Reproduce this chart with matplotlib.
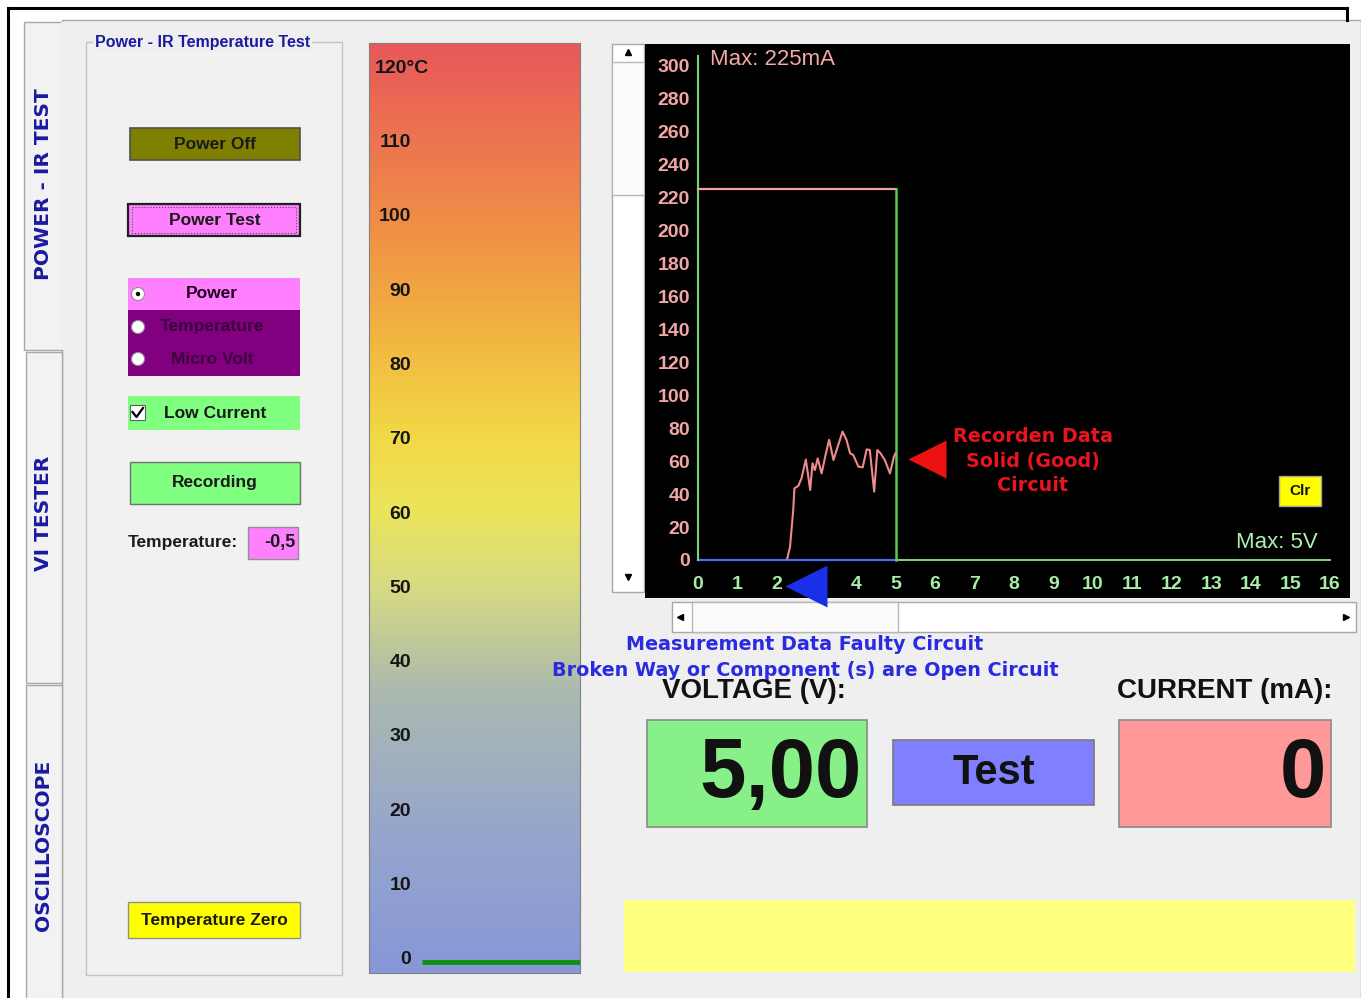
import numpy as np
import matplotlib
matplotlib.use('Agg')
import matplotlib.pyplot as plt
from matplotlib.patches import Rectangle, Circle
from matplotlib.colors import LinearSegmentedColormap

plt.rcParams['font.family'] = ['Liberation Sans', 'DejaVu Sans']

# ---- data ----
temp_ticks = [120, 110, 100, 90, 80, 70, 60, 50, 40, 30, 20, 10, 0]
temp_value = -0.5
current_ticks = [0, 20, 40, 60, 80, 100, 120, 140, 160, 180, 200, 220, 240, 260, 280, 300]
voltage_ticks = [0, 1, 2, 3, 4, 5, 6, 7, 8, 9, 10, 11, 12, 13, 14, 15, 16]
max_current = 225          # mA
max_voltage = 5            # V
voltage_reading = 5.00
current_reading = 0

# recorded trace (V, mA)
trace_v = [2.26, 2.33, 2.41, 2.44, 2.54, 2.62, 2.73, 2.84, 2.90, 2.96, 3.03, 3.13,
           3.22, 3.32, 3.43, 3.51, 3.66, 3.76, 3.85, 3.93, 4.06, 4.17, 4.27, 4.35,
           4.46, 4.54, 4.62, 4.73, 4.86, 4.96, 5.00]
trace_ma = [1, 8, 30, 43.5, 45, 49.6, 61, 42.5, 58.7, 54.6, 61.7, 52.6,
            62.8, 73, 60.7, 66.8, 78, 72.9, 64.8, 63.8, 56.7, 56.3, 67.2, 66.8,
            41.5, 66.8, 64.8, 60.7, 52.6, 62.7, 64.8]

W, H = 1361, 998
fig = plt.figure(figsize=(W / 100, H / 100), dpi=100)
fig.patch.set_facecolor('white')

# ---- background "window" drawn in pixel coordinates ----
bg = fig.add_axes([0, 0, 1, 1])
bg.set_xlim(0, W)
bg.set_ylim(H, 0)
bg.axis('off')


def box(axh, x0, y0, x1, y1, fc, ec='none', lw=1.0, ls='-', z=1):
    axh.add_patch(Rectangle((x0, y0), x1 - x0, y1 - y0, facecolor=fc,
                            edgecolor=ec, linewidth=lw, linestyle=ls, zorder=z))


bg.plot([8, 8], [8, H], color='black', lw=2.2)
bg.plot([8, 1347], [8, 8], color='black', lw=2.2)
bg.plot([1347, 1347], [8, 20], color='black', lw=2.2)

# tab control
box(bg, 62, 20, 1361, 1000, '#efefef', '#a8a8a8')
box(bg, 24, 22, 62, 350, '#f2f2f2', '#a8a8a8')
box(bg, 26, 352, 62, 683, '#f2f2f2', '#a8a8a8')
box(bg, 26, 685, 62, 1000, '#f2f2f2', '#a8a8a8')
bg.plot([62, 62], [23, 348], color='#f2f2f2', lw=2, zorder=2)
tab_style = dict(color='#1a1aa0', fontsize=14.5, fontweight='bold', rotation=90,
                 ha='center', va='center', family='DejaVu Sans')
bg.text(44, 184, 'POWER - IR TEST', **tab_style)
bg.text(44, 513, 'VI TESTER', **tab_style)
bg.text(44, 845, 'OSCILLOSCOPE', **tab_style)

# group box
box(bg, 86, 42, 342, 975, '#f1f1f1', '#c4c4c4')
bg.text(95, 42, 'Power - IR Temperature Test', color='#1a1aa0', fontsize=11.5,
        fontweight='bold', ha='left', va='center', zorder=3,
        bbox=dict(facecolor='#efefef', edgecolor='none', pad=1.5))

btn = dict(fontsize=12.5, fontweight='bold', ha='center', va='center', color='#1a1a1a', zorder=4)
box(bg, 130, 128, 300, 160, '#808000', '#505050', 1.2)
bg.text(215, 144, 'Power Off', **btn)
box(bg, 128, 204, 300, 236, '#ff80ff', '#202020', 1.6)
box(bg, 132, 207, 296, 233, 'none', '#505050', 0.8, ':', 3)
bg.text(215, 220, 'Power Test', **btn)

box(bg, 128, 278, 300, 310, '#ff80ff')
box(bg, 128, 310, 300, 376, '#800080')
for yy, label, col in [(294, 'Power', '#200020'), (327, 'Temperature', '#3c003c'),
                       (359, 'Micro Volt', '#3c003c')]:
    bg.add_patch(Circle((138, yy), 6.5, facecolor='white', edgecolor='#909090', lw=0.8, zorder=3))
    bg.text(212, yy, label, fontsize=12.5, fontweight='bold', ha='center', va='center',
            color=col, zorder=4)
bg.add_patch(Circle((138, 294), 2.2, facecolor='black', zorder=4))

box(bg, 128, 396, 300, 430, '#80ff80')
box(bg, 130, 405, 145, 420, 'white', '#606060', 0.8, z=3)
bg.plot([132.5, 136.5, 143], [412, 417, 408], color='black', lw=1.6, zorder=4)
bg.text(215, 413, 'Low Current', **btn)

box(bg, 130, 462, 300, 504, '#80ff80', '#707070', 1.0)
bg.text(215, 483, 'Recording', **btn)

bg.text(128, 542, 'Temperature:', fontsize=12.5, fontweight='bold', ha='left',
        va='center', color='#1a1a1a')
box(bg, 248, 527, 298, 559, '#ff80ff', '#909090', 1.0)
bg.text(296, 542, f'{temp_value:.1f}'.replace('.', ','), fontsize=13, fontweight='bold',
        ha='right', va='center', color='#1a1a1a', zorder=4)

box(bg, 128, 902, 300, 938, '#ffff00', '#909090', 1.0)
bg.text(214, 920, 'Temperature Zero', **btn)

# scrollbars
box(bg, 612, 44, 644, 592, 'white', '#a8a8a8', 1.0)
box(bg, 612, 62, 644, 195, '#fbfbfb', '#b8b8b8', 1.0, z=2)
bg.plot(628, 52, marker='^', ms=5, color='black', zorder=3)
bg.plot(628, 577, marker='v', ms=5, color='black', zorder=3)
box(bg, 672, 602, 1356, 632, 'white', '#a8a8a8', 1.0)
box(bg, 692, 602, 898, 632, '#fbfbfb', '#b8b8b8', 1.0, z=2)
bg.plot(680, 617, marker='<', ms=5, color='black', zorder=3)
bg.plot(1346, 617, marker='>', ms=5, color='black', zorder=3)

# readouts
bg.text(662, 691, 'VOLTAGE (V):', fontsize=20, fontweight='bold', ha='left', va='center', color='#111111')
bg.text(1332, 691, 'CURRENT (mA):', fontsize=20, fontweight='bold', ha='right', va='center', color='#111111')
box(bg, 647, 720, 867, 827, '#88f088', '#8a8a8a', 1.2)
bg.text(862, 775, f'{voltage_reading:.2f}'.replace('.', ','), fontsize=60, fontweight='bold',
        ha='right', va='center', color='#111111')
box(bg, 893, 740, 1094, 805, '#8080ff', '#7a7a7a', 1.2)
bg.text(994, 773, 'Test', fontsize=30, fontweight='bold', ha='center', va='center', color='#111111')
box(bg, 1119, 720, 1331, 827, '#ff9999', '#8a8a8a', 1.2)
bg.text(1326, 775, str(current_reading), fontsize=60, fontweight='bold',
        ha='right', va='center', color='#111111')
box(bg, 624, 900, 1355, 972, '#ffff80')

# ---- temperature bar ----
tax = fig.add_axes([369 / W, 1 - 973 / H, 211 / W, 930 / H])
t_lo = 0 - (973 - 958) / 7.433
t_hi = 120 + (66 - 43) / 7.433
cmap = LinearSegmentedColormap.from_list('ir', [
    (0.00, '#8797d8'), (0.15, '#96a6cc'), (0.30, '#abb9b0'), (0.42, '#d8dc80'),
    (0.50, '#ece45a'), (0.58, '#f2d846'), (0.70, '#f2b040'), (0.82, '#ef8a48'),
    (1.00, '#e8585a')])
grad = np.linspace(0, 1, 256).reshape(-1, 1)
tax.imshow(grad, aspect='auto', cmap=cmap, origin='lower', extent=[0, 211, t_lo, t_hi])
tax.set_xlim(0, 211)
tax.set_ylim(t_lo, t_hi)
tax.set_xticks([])
tax.set_yticks([])
for s in tax.spines.values():
    s.set_color('#808080')
for t in temp_ticks:
    if t == temp_ticks[0]:
        tax.text(6, t, f'{t}°C', ha='left', va='center_baseline', fontsize=14,
                 fontweight='bold', color='#151515')
    else:
        tax.text(42, t, str(t), ha='right', va='center_baseline', fontsize=14,
                 fontweight='bold', color='#151515')
tax.hlines(temp_value, 53, 211, color='#109010', lw=3.5)

# ---- V/I chart ----
ax = fig.add_axes([645 / W, 1 - 598 / H, 705 / W, 554 / H])
ax.set_facecolor('black')
ax.set_xlim((645 - 698) / 39.5, (1350 - 698) / 39.5)
ax.set_ylim(-(598 - 560) / 1.6467, (560 - 44) / 1.6467)
ax.set_xticks([])
ax.set_yticks([])
for s in ax.spines.values():
    s.set_visible(False)

for v in current_ticks:
    ax.text(-0.2, v, str(v), ha='right', va='center_baseline', fontsize=14,
            fontweight='bold', color='#f2a6a6')
for v in voltage_ticks:
    ax.text(v, -13.4, str(v), ha='center', va='center_baseline', fontsize=14,
            fontweight='bold', color='#a8eea8')

ax.plot([0, voltage_ticks[-1]], [0, 0], color='#90e090', lw=1.3)
ax.plot([0, max_voltage], [0, 0], color='#4a6cff', lw=1.6)
ax.plot([0, 0], [0, 306], color='#70d870', lw=1.5)
ax.plot([0, max_voltage], [max_current, max_current], color='#f4a0a0', lw=1.6)
ax.plot([max_voltage, max_voltage], [0, max_current], color='#50d050', lw=1.8)
ax.plot(trace_v, trace_ma, color='#f08a8a', lw=1.5)

ax.text(0.3, 305.5, f'Max: {max_current}mA', ha='left', va='center_baseline', fontsize=16, color='#f4a8a8')
ax.text(15.7, 12.1, f'Max: {max_voltage}V', ha='right', va='center_baseline', fontsize=16, color='#b0f0b0')
ax.text(8.48, 60.1, 'Recorden Data\nSolid (Good)\nCircuit', ha='center', va='center',
        multialignment='center', linespacing=1.38, fontsize=13.8, fontweight='bold',
        color='#e8141e', family='DejaVu Sans')
ax.plot(5.785, 61.3, marker='<', ms=27, color='#ee1111', mec='none')
ax.plot(2.734, -15.8, marker='<', ms=30, color='#1a30e8', mec='none', clip_on=False, zorder=6)

# ---- overlay ----
top = fig.add_axes([0, 0, 1, 1], zorder=5)
top.set_xlim(0, W)
top.set_ylim(H, 0)
top.axis('off')
box(top, 1279, 476, 1321, 506, '#ffff00', '#a0a0a0', 1.0)
top.text(1300, 491, 'Clr', fontsize=11, fontweight='bold', ha='center', va='center', color='#111111')
msg = dict(color='#2a2ae0', fontsize=13.8, fontweight='bold', ha='center', va='center',
           family='DejaVu Sans')
top.text(805, 644, 'Measurement Data Faulty Circuit', **msg)
top.text(805, 670, 'Broken Way or Component (s) are Open Circuit', **msg)

fig.savefig('out.png', dpi=100)
